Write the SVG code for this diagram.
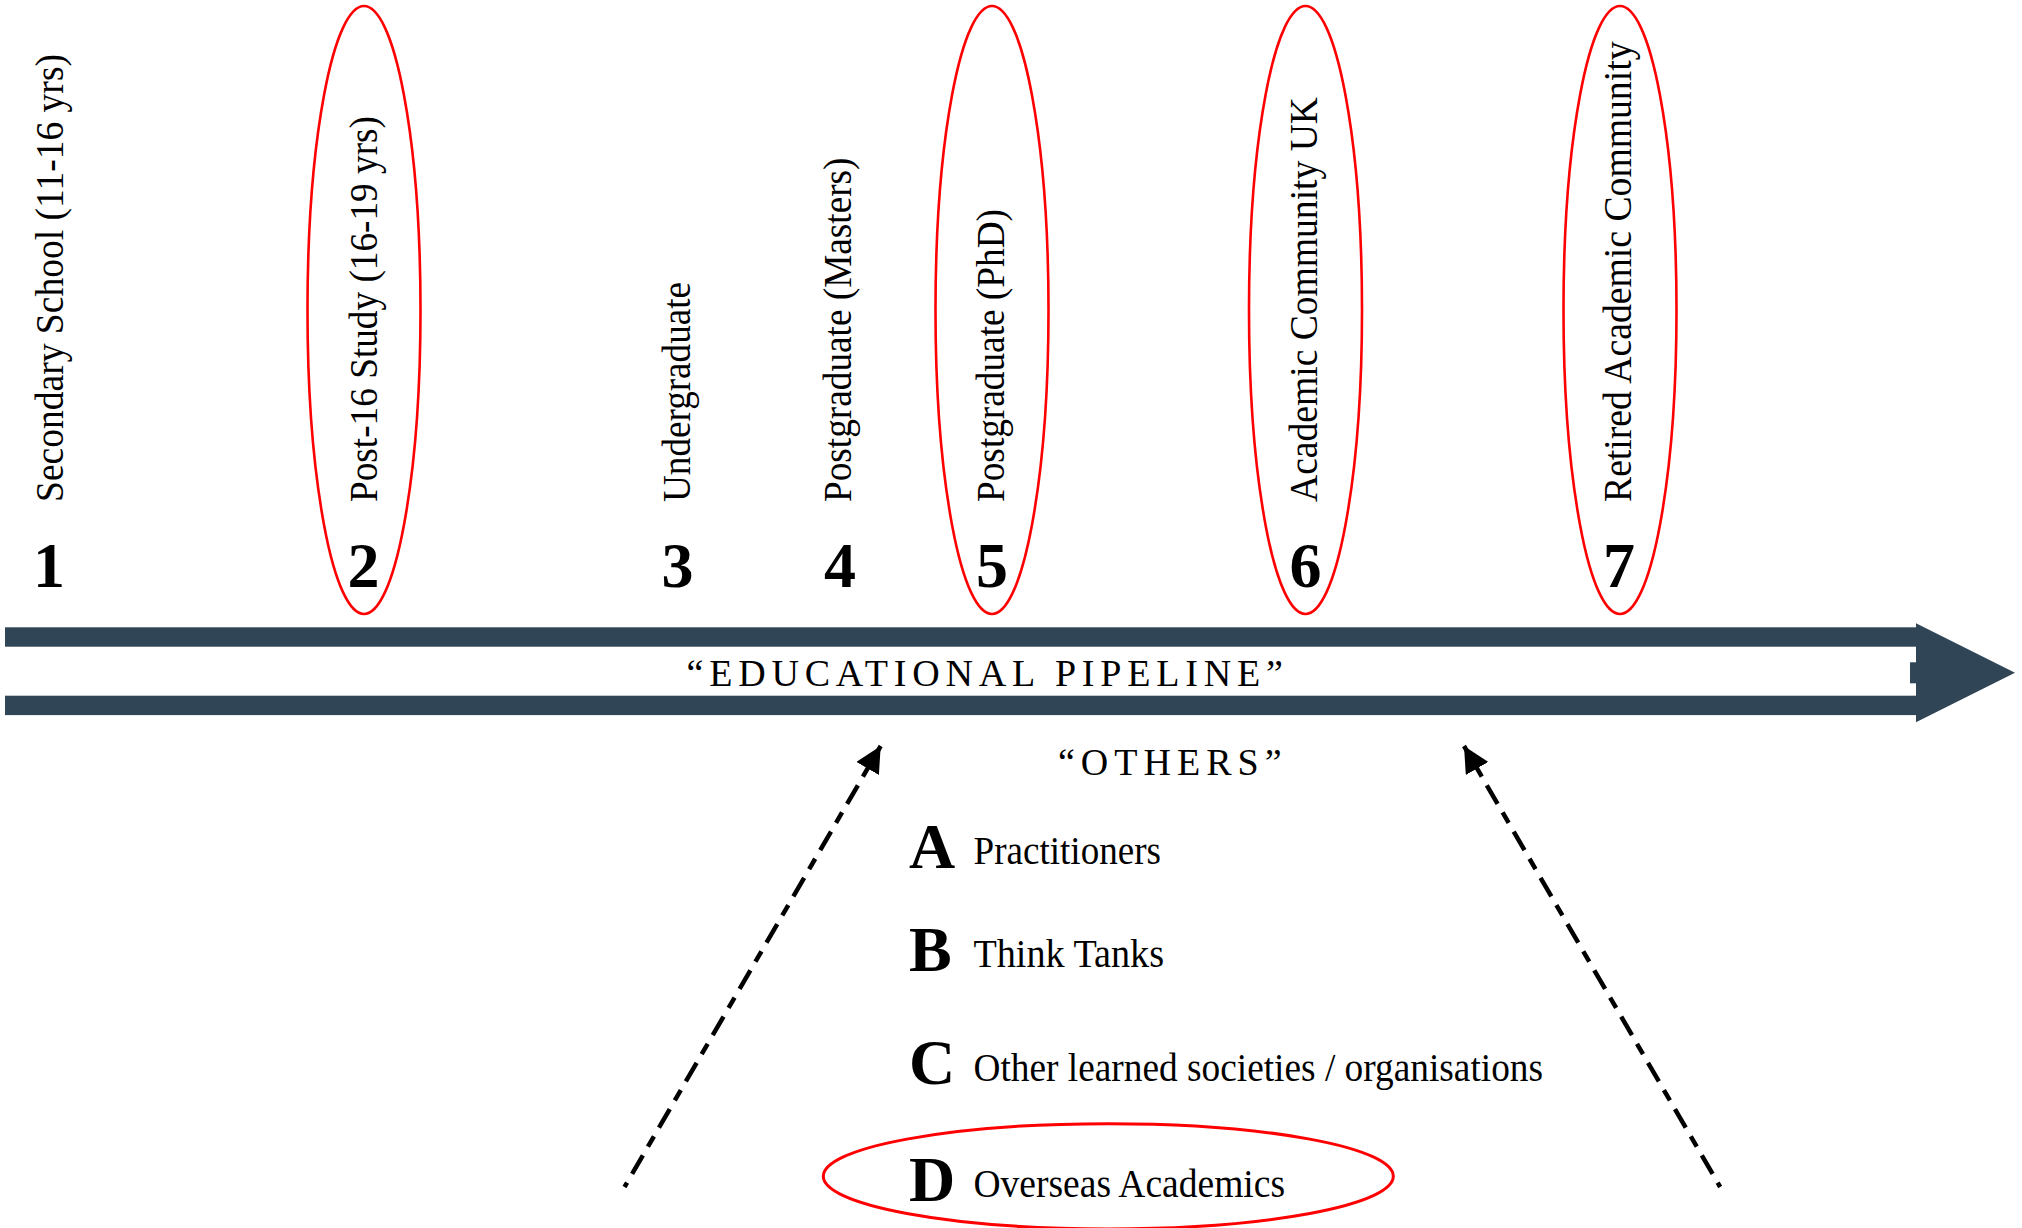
<svg xmlns="http://www.w3.org/2000/svg" width="2022" height="1228" viewBox="0 0 2022 1228">
<style>
  .lbl { font-family: "Liberation Serif", "Times New Roman", serif; font-size: 41px; fill: #000; }
  .num { font-family: "Liberation Serif", "Times New Roman", serif; font-size: 64px; font-weight: bold; fill: #000; text-anchor: middle; }
  .let { font-family: "Liberation Serif", "Times New Roman", serif; font-size: 64px; font-weight: bold; fill: #000; }
  .item { font-family: "Liberation Serif", "Times New Roman", serif; font-size: 41px; fill: #000; }
  .cap { font-family: "Liberation Serif", "Times New Roman", serif; font-size: 38px; fill: #000; }
  .ring { fill: none; stroke: #FF0000; stroke-width: 2.6; }
  .pipe { fill: #304656; }
  .dash { fill: none; stroke: #000; stroke-width: 4.5; stroke-dasharray: 12 10 21.5 10; stroke-dashoffset: 30.1; marker-start: url(#head); }
</style>
<defs>
  <marker id="head" viewBox="0 0 26 26" refX="26" refY="13" markerWidth="26" markerHeight="26" markerUnits="userSpaceOnUse" orient="auto-start-reverse">
    <path d="M0,0 L26,13 L0,26 Z" fill="#000"/>
  </marker>
</defs>
<rect x="0" y="0" width="2022" height="1228" fill="#FFFFFF"/>

<g id="pipeline">
  <rect class="pipe" x="5" y="627.3" width="1912" height="19.4"/>
  <rect class="pipe" x="5" y="695.7" width="1912" height="19.4"/>
  <polygon class="pipe" points="1916,623.3 2015,672.7 1916,722.3"/>
  <rect class="pipe" x="1910" y="662.3" width="7" height="21"/>
  <text class="cap" x="686.5" y="685.7" style="letter-spacing:5.8px">“EDUCATIONAL PIPELINE”</text>
</g>

<g id="stage-1">
  <text class="lbl" transform="translate(62.5,502) rotate(-90)" textLength="448" lengthAdjust="spacingAndGlyphs">Secondary School (11-16 yrs)</text>
  <text class="num" x="49" y="587">1</text>
</g>
<g id="stage-2">
  <ellipse class="ring" cx="364" cy="310" rx="56.5" ry="304"/>
  <text class="lbl" transform="translate(377,502) rotate(-90)" textLength="386" lengthAdjust="spacingAndGlyphs">Post-16 Study (16-19 yrs)</text>
  <text class="num" x="363.5" y="587">2</text>
</g>
<g id="stage-3">
  <text class="lbl" transform="translate(689.5,502) rotate(-90)" textLength="220" lengthAdjust="spacingAndGlyphs">Undergraduate</text>
  <text class="num" x="677.5" y="587">3</text>
</g>
<g id="stage-4">
  <text class="lbl" transform="translate(851,502) rotate(-90)" textLength="344.5" lengthAdjust="spacingAndGlyphs">Postgraduate (Masters)</text>
  <text class="num" x="840" y="587">4</text>
</g>
<g id="stage-5">
  <ellipse class="ring" cx="992" cy="310" rx="56.5" ry="304"/>
  <text class="lbl" transform="translate(1003.5,502) rotate(-90)" textLength="293" lengthAdjust="spacingAndGlyphs">Postgraduate (PhD)</text>
  <text class="num" x="992" y="587">5</text>
</g>
<g id="stage-6">
  <ellipse class="ring" cx="1305.5" cy="310" rx="56.5" ry="304"/>
  <text class="lbl" transform="translate(1317,502) rotate(-90)" textLength="405" lengthAdjust="spacingAndGlyphs">Academic Community UK</text>
  <text class="num" x="1305.5" y="587">6</text>
</g>
<g id="stage-7">
  <ellipse class="ring" cx="1620" cy="310" rx="56.5" ry="304"/>
  <text class="lbl" transform="translate(1630.5,502) rotate(-90)" textLength="460.5" lengthAdjust="spacingAndGlyphs">Retired Academic Community</text>
  <text class="num" x="1619" y="587">7</text>
</g>

<g id="others">
  <text class="cap" x="1058" y="775" style="letter-spacing:6px">“OTHERS”</text>
</g>
<g id="other-A">
  <text class="let" x="909" y="868">A</text>
  <text class="item" x="973.5" y="864" textLength="187.5" lengthAdjust="spacingAndGlyphs">Practitioners</text>
</g>
<g id="other-B">
  <text class="let" x="909" y="970.5">B</text>
  <text class="item" x="973.5" y="966.5" textLength="190.5" lengthAdjust="spacingAndGlyphs">Think Tanks</text>
</g>
<g id="other-C">
  <text class="let" x="909" y="1084">C</text>
  <text class="item" x="973.5" y="1080.5" textLength="569.5" lengthAdjust="spacingAndGlyphs">Other learned societies / organisations</text>
</g>
<g id="other-D">
  <ellipse class="ring" cx="1108.3" cy="1176.3" rx="285" ry="52.6" style="stroke-width:3"/>
  <text class="let" x="909" y="1200.5">D</text>
  <text class="item" x="973.5" y="1196.5" textLength="311.5" lengthAdjust="spacingAndGlyphs">Overseas Academics</text>
</g>

<g id="connectors">
  <path class="dash" d="M880.7,746 L624.5,1187"/>
  <path class="dash" d="M1464,746 L1720.2,1187"/>
</g>
</svg>
